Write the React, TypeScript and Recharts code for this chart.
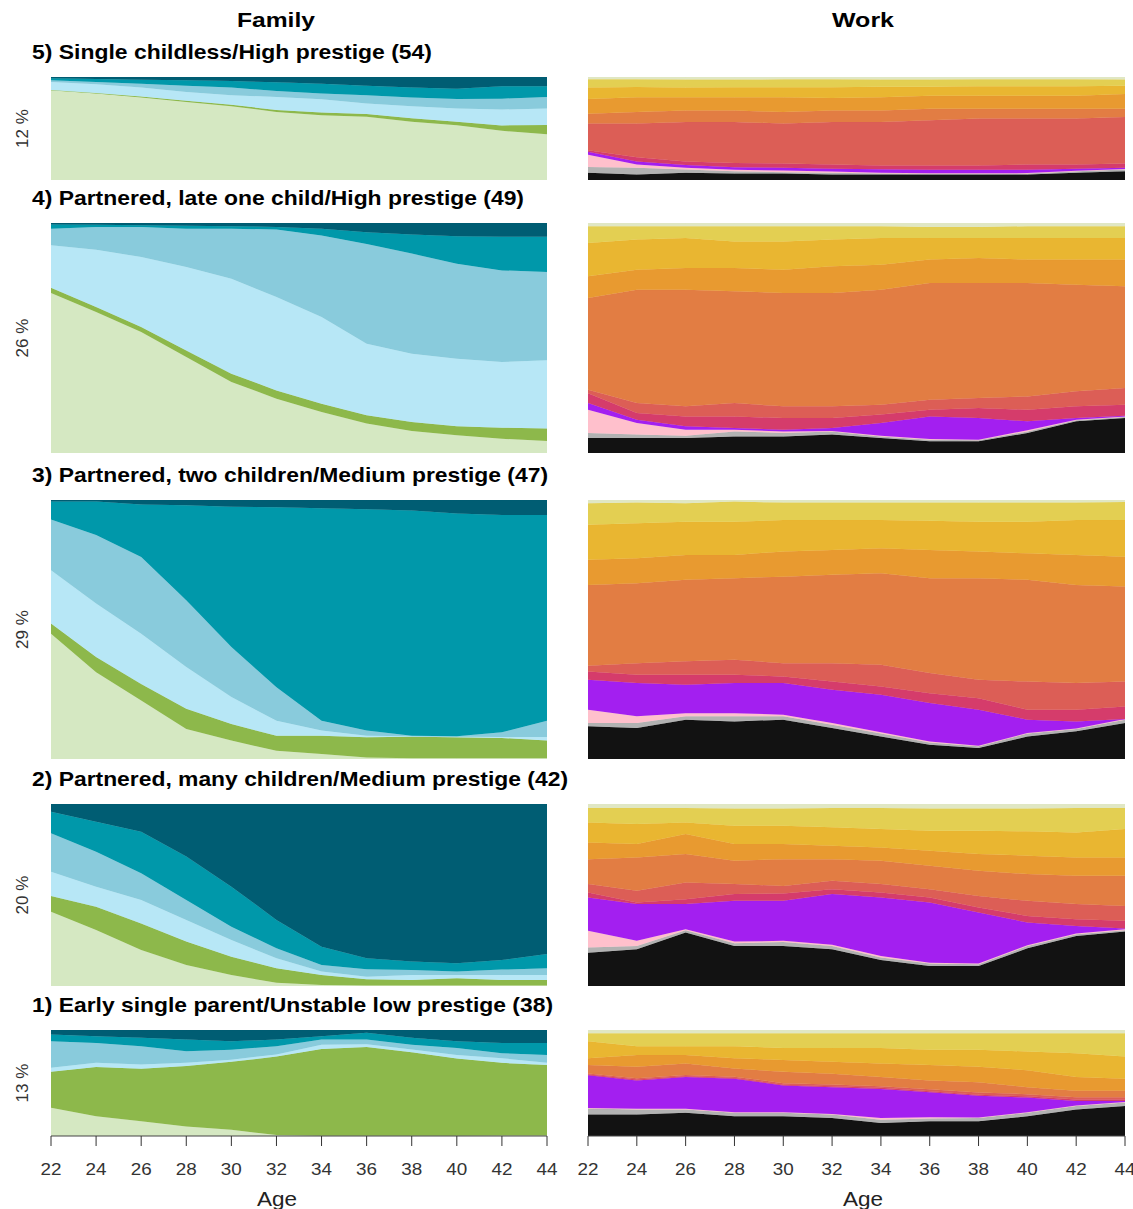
import React from 'react';
import { AreaChart, Area, XAxis, YAxis } from 'recharts';

// ---------- data ----------
const AGES = [22, 24, 26, 28, 30, 32, 34, 36, 38, 40, 42, 44];
const AGE_TICKS = [22, 24, 26, 28, 30, 32, 34, 36, 38, 40, 42, 44];

const FAMILY_STATES = ['Single, no child', 'Single, with child', 'Partnered, no child', 'Partnered, one child', 'Partnered, two children', 'Partnered, three+ children'];
const WORK_STATES = ['Not employed', 'Unemployed', 'In education', 'Prestige 1', 'Prestige 2', 'Prestige 3', 'Prestige 4', 'Prestige 5', 'Prestige 6', 'Prestige 7', 'Prestige 8'];

const CLUSTER_TITLES = [
  '5) Single childless/High prestige (54)',
  '4) Partnered, late one child/High prestige (49)',
  '3) Partnered, two children/Medium prestige (47)',
  '2) Partnered, many children/Medium prestige (42)',
  '1) Early single parent/Unstable low prestige (38)',
];
const CLUSTER_SHARES = ['12 %', '26 %', '29 %', '20 %', '13 %'];

// cumulative upper edge (%) of each state, bottom to top (last state fills to 100)
const family5Tops = [
  [87.1, 83.9, 80, 75.8, 71.6, 66.1, 62.9, 61.3, 56.5, 53.2, 47.7, 44.5],
  [87.5, 84.5, 81, 77, 73, 68, 65.5, 64, 60, 56.5, 53, 53.5],
  [95.2, 92.9, 89.7, 85.5, 82.3, 80.6, 78.4, 74.2, 71.6, 69.4, 68.4, 69.4],
  [96.8, 95.2, 93.5, 91.6, 89.7, 86.5, 83.9, 82.3, 80, 78.7, 79, 80.6],
  [98.7, 98.1, 97.4, 96.8, 96.1, 94.8, 93.5, 91.6, 89.7, 88.7, 91, 91],
];
const family4Tops = [
  [69.6, 61.3, 52.6, 41.7, 30.9, 23.6, 17.8, 12.8, 9.6, 7.7, 6.2, 5.2],
  [71.9, 63.5, 54.8, 44.6, 34.5, 27.2, 21.4, 16.4, 13.5, 11.6, 11, 10.6],
  [90.3, 88.4, 85.2, 80.9, 75.8, 67.8, 59.1, 47.5, 43.2, 41, 39.6, 40.3],
  [97.5, 98.3, 98.3, 97.5, 97.5, 97.2, 94.6, 90.9, 86.7, 82.3, 79.4, 78.7],
  [99.4, 99.2, 99, 98.8, 98.6, 98.3, 97.5, 96, 95, 94.2, 94, 94],
];
const family3Tops = [
  [48.4, 33.5, 22.6, 11.6, 7.1, 3.2, 1.9, 0.6, 0.3, 0.3, 0.3, 0.3],
  [52.3, 39.4, 29, 19.4, 13.5, 9, 9, 8.4, 8.6, 8.4, 8.1, 7.1],
  [72.9, 60, 48.4, 35.5, 23.9, 14.8, 11, 9, 8.8, 8.6, 8.5, 8.5],
  [92.5, 86.5, 78, 61.3, 43.2, 27.7, 14.8, 11, 9, 8.8, 10.3, 14.8],
  [99.4, 99.4, 98.3, 98, 97.4, 97.2, 96.8, 96.4, 95.9, 94.8, 94.2, 94.2],
];
const family2Tops = [
  [40.8, 30.8, 19.8, 11.5, 6, 1.8, 0.5, 0.3, 0.3, 0.3, 0.3, 0.3],
  [49.5, 43.6, 34.4, 24.4, 16.1, 9.7, 6, 3.7, 3.3, 4.2, 3.3, 3.3],
  [62.8, 54.6, 47.3, 36.3, 25.3, 15.2, 7.9, 5.1, 6, 6, 6, 6],
  [83.9, 73.8, 61.9, 47.3, 32.6, 20.7, 11.5, 9.2, 8.8, 7.9, 9, 9.7],
  [95.8, 90.3, 84.8, 71.1, 54.6, 36.3, 21.6, 15.2, 13.4, 12.5, 14.3, 17.6],
];
const family1Tops = [
  [26.7, 18.6, 13.8, 9, 5.8, 1, 0.3, 0.3, 0.3, 0.3, 0.5, 0.5],
  [60.5, 65, 63.5, 66, 70, 75, 82, 84, 79, 73, 69, 67],
  [64.5, 69, 67.5, 69, 72, 77, 86, 86.5, 81.5, 76.5, 73.3, 69],
  [89.4, 87.8, 84.6, 80, 81.4, 84.6, 91, 91, 86.2, 83, 78.1, 76.5],
  [95.8, 94.2, 92.6, 91, 89.4, 91, 94.2, 97.4, 92.6, 89.4, 87.8, 87.8],
];

const work5Tops = [
  [7, 5.4, 7, 6.4, 6.4, 5.4, 5.4, 5.4, 5.4, 5.4, 7, 8.6],
  [12.7, 11.8, 10.2, 8.6, 7.6, 7, 6.4, 6, 6, 6.2, 8.6, 10.2],
  [24.5, 15, 12, 10, 9.2, 8.3, 7, 6.5, 6.5, 6.7, 8.9, 10.8],
  [27.5, 18, 14.5, 12.5, 12, 11, 10.5, 10, 10, 10, 11, 12],
  [29, 22, 18, 16.5, 16, 15, 14, 14, 14, 15, 15, 16],
  [54.8, 54.8, 56.4, 56.4, 54.8, 56.4, 56.4, 58, 59.6, 59.6, 59.6, 61.1],
  [64.3, 65.9, 67.5, 67.5, 65.9, 67.5, 67.5, 69.1, 69.1, 69.1, 69.1, 69.1],
  [78.7, 80.3, 80.3, 80.3, 80.3, 79.6, 80.3, 81.8, 81.8, 81.8, 81.8, 83.4],
  [89.8, 90.4, 89.8, 90, 90, 90, 90.5, 90.5, 91, 91, 91, 91.4],
  [97.8, 97.8, 97.5, 97.5, 97.8, 97.8, 97.5, 97.5, 97.8, 97.8, 97.8, 97.5],
];
const work4Tops = [
  [6.5, 6.5, 6.5, 7.2, 7.2, 8, 6.5, 5.1, 5.1, 8.7, 13.8, 15.2],
  [8.7, 8, 7.5, 9.4, 8.7, 9.4, 7.2, 5.8, 5.5, 9.4, 14.2, 15.7],
  [18.8, 13, 10.1, 10.1, 9.4, 9.6, 7.5, 6.1, 5.8, 9.9, 14.5, 15.9],
  [21.7, 14.5, 11.6, 10.9, 10.1, 10.9, 13, 15.9, 15.2, 13.8, 15.2, 16.2],
  [26, 17.4, 15.9, 15.9, 15.2, 15.2, 16.7, 18.8, 19.6, 18.8, 20.3, 21],
  [27.5, 21.7, 20.3, 21.7, 20.3, 20.3, 21, 23.2, 23.9, 24.6, 26.8, 28.3],
  [67.4, 71, 71, 70.3, 69.6, 69.6, 71, 73.9, 73.9, 73.9, 73.2, 72.5],
  [76.8, 79.7, 80.4, 80.4, 79.7, 81.2, 81.9, 84.1, 84.8, 84.1, 84.1, 84.1],
  [91.3, 92.8, 93.5, 92, 92, 92.8, 93.5, 93.5, 93.5, 93.5, 93.5, 93.5],
  [98.6, 98.6, 98.6, 98.6, 98.6, 98.6, 98.6, 98.3, 98.3, 98.6, 98.6, 98.6],
];
const work3Tops = [
  [12.6, 12, 15.2, 14.5, 15.2, 12, 8.7, 5.5, 4.2, 8.7, 10.7, 13.9],
  [13.9, 13.9, 16.5, 16.5, 16.5, 13.2, 9.8, 6.4, 4.9, 9.8, 11.6, 15.2],
  [19, 16.5, 17.7, 17.7, 17.1, 13.9, 10.3, 6.8, 5.1, 10, 11.8, 15.4],
  [30.6, 29.3, 28.7, 29.3, 29.3, 26.7, 24.8, 21.6, 19, 15.2, 14.5, 15.4],
  [33.8, 32.5, 32.5, 32.5, 31.9, 29.9, 28, 25.4, 23.5, 19, 19, 20.3],
  [36, 37, 37.7, 38.3, 37, 37, 36.4, 33.2, 30.6, 29.9, 29.3, 29.9],
  [67.2, 67.9, 69.2, 69.8, 70.4, 71.1, 71.7, 69.8, 69.8, 69.2, 67.2, 66.6],
  [76.9, 77.5, 78.8, 78.8, 80.1, 80.7, 81.4, 80.7, 80.1, 79.4, 78.8, 78.1],
  [90.4, 91, 91.6, 91.6, 92.3, 92.3, 92.3, 92, 91.6, 91.6, 92.3, 92.3],
  [98.7, 99, 98.7, 99.4, 99, 99, 99, 99, 99, 99, 99, 99.2],
];
const work2Tops = [
  [18.3, 20.2, 29.4, 22, 22, 20.2, 14.3, 11, 11, 20.7, 27.5, 29.9],
  [21.1, 22, 30.6, 23.5, 24.2, 22, 15.6, 12.3, 11.9, 22, 28.4, 30.6],
  [30.3, 24.8, 31.2, 24.4, 24.8, 22.6, 16.5, 12.8, 12.3, 22.4, 28.8, 31.2],
  [48.6, 45, 45, 46.8, 46.8, 50.5, 48.6, 45.9, 40.4, 34.9, 33, 31.6],
  [51.4, 45.9, 47.7, 50.5, 50.8, 53.2, 51.4, 48.6, 43.1, 38.5, 36.7, 35.8],
  [56, 52.3, 56.9, 56, 55, 57.8, 56, 53.2, 49.5, 46.8, 45, 44],
  [69.7, 70.6, 72.5, 68.8, 69.7, 69.7, 68.8, 66.1, 63.3, 61.5, 60.6, 60.6],
  [78.9, 78, 83.5, 78, 78, 77.1, 76.1, 74.3, 72.5, 71.6, 70.6, 70.6],
  [89.9, 89, 89.9, 88.1, 88.1, 87.2, 86.2, 85.3, 85.3, 85, 84.4, 86.2],
  [97.8, 97.8, 97.8, 97.5, 97.5, 97.8, 97.8, 97.5, 97.5, 97.5, 97.8, 97.8],
];
const work1Tops = [
  [20.3, 20.3, 21.9, 18.6, 18.6, 17, 12.2, 13.8, 13.8, 18.6, 25.1, 28.3],
  [26, 25.1, 25.1, 21.9, 21.9, 20.3, 15.4, 16.4, 17, 21.9, 28.3, 31.5],
  [26.5, 25.6, 25.6, 22.4, 22.4, 20.8, 17, 17.7, 17.5, 22.4, 28.8, 32],
  [57.2, 52.4, 55.6, 54, 47.6, 46, 44.4, 41.2, 37.9, 36.3, 33.1, 33.1],
  [58, 53.2, 56.4, 54.8, 48.4, 47, 45.5, 42.3, 39, 37.5, 34.5, 34.5],
  [59, 54.5, 57.5, 56, 49.8, 48.5, 47, 44, 41, 39.5, 36.5, 36.5],
  [66.9, 65.3, 68.5, 63.7, 60.5, 58.8, 55.6, 52.4, 50.8, 46, 42.8, 42.8],
  [73.3, 76.5, 76.5, 73.3, 71.7, 70.1, 68.5, 66.9, 65.3, 62.1, 55.6, 54],
  [89.4, 84.6, 84.6, 84.6, 83, 83, 83, 81.4, 81.4, 79.7, 78.1, 74.9],
  [97, 97, 97, 97, 97, 97, 97, 97, 97, 97, 97, 97],
];

const FAMILY_BY_CLUSTER = [family5Tops, family4Tops, family3Tops, family2Tops, family1Tops];
const WORK_BY_CLUSTER = [work5Tops, work4Tops, work3Tops, work2Tops, work1Tops];

// ---------- styles / layout ----------
const FAMILY_COLORS = ['#d5e8c2', '#8db84b', '#b7e7f6', '#89cbdc', '#0098aa', '#005d73'];
const WORK_COLORS = ['#121212', '#b2b2b2', '#ffc0cc', '#a31ff0', '#d53c6b', '#dc5e56', '#e27d43', '#e89a30', '#e9b631', '#e3cf52', '#e0e7c4'];
const FONT = '"Liberation Sans", Arial, Helvetica, sans-serif';

const ROW_TOP = [77, 223, 500, 804, 1030];
const ROW_BOTTOM = [180, 453, 759, 986, 1136];
const TITLE_WIDTH = [400, 492, 516, 536, 521];
const FAM_X = 51, FAM_W = 496;
const WORK_X = 588, WORK_W = 537;
const PAD = 24;
const AXIS_H = 80;

function buildRows(tops: number[][], names: string[]) {
  return AGES.map((age, i) => {
    const row: Record<string, number> = { age };
    let prev = 0;
    tops.forEach((arr, k) => {
      const v = Math.max(arr[i], prev);
      row[names[k]] = +(v - prev).toFixed(2);
      prev = v;
    });
    row[names[tops.length]] = +(100 - prev).toFixed(2);
    return row;
  });
}

const AgeTick = (props: any) => {
  const { x, y, payload } = props;
  return (
    <text x={x} y={y + 29} textAnchor="middle" fontSize={17} fill="#333" fontFamily={FONT}
      textLength={21} lengthAdjust="spacingAndGlyphs">
      {payload.value}
    </text>
  );
};

function Panel({ tops, names, colors, left, top, width, height, showAxis }: any) {
  const rows = buildRows(tops, names);
  return (
    <div style={{ position: 'absolute', left: left - PAD, top }}>
      <AreaChart width={width + 2 * PAD} height={height + (showAxis ? AXIS_H : 0)} data={rows}
        margin={{ top: 0, right: PAD, bottom: 0, left: PAD }}>
        <XAxis type="number" dataKey="age" domain={[22, 44]} ticks={AGE_TICKS} interval={0}
          hide={!showAxis} height={AXIS_H} allowDataOverflow
          axisLine={{ stroke: '#444', strokeWidth: 1 }} tickLine={{ stroke: '#333', strokeWidth: 1 }}
          tickSize={10} tickMargin={0} tick={(p: any) => <AgeTick {...p} />} />
        <YAxis type="number" domain={[0, 100]} hide allowDataOverflow />
        {names.map((n: string, k: number) => (
          <Area key={n} type="linear" dataKey={n} stackId="1" stroke={colors[k]} strokeWidth={0.6}
            fill={colors[k]} fillOpacity={1} isAnimationActive={false} dot={false} activeDot={false} />
        ))}
      </AreaChart>
    </div>
  );
}

export default function App() {
  return (
    <div style={{ position: 'absolute', left: 0, top: 0, width: 1133, height: 1209, background: '#fff', fontFamily: FONT, overflow: 'hidden' }}>
      {CLUSTER_TITLES.map((t, r) => (
        <React.Fragment key={t}>
          <Panel tops={FAMILY_BY_CLUSTER[r]} names={FAMILY_STATES} colors={FAMILY_COLORS}
            left={FAM_X} top={ROW_TOP[r]} width={FAM_W} height={ROW_BOTTOM[r] - ROW_TOP[r]} showAxis={r === 4} />
          <Panel tops={WORK_BY_CLUSTER[r]} names={WORK_STATES} colors={WORK_COLORS}
            left={WORK_X} top={ROW_TOP[r]} width={WORK_W} height={ROW_BOTTOM[r] - ROW_TOP[r]} showAxis={r === 4} />
        </React.Fragment>
      ))}
      <svg width={1133} height={1209} style={{ position: 'absolute', left: 0, top: 0, pointerEvents: 'none' }}>
        <text x={276} y={27} textAnchor="middle" fontSize={21} fontWeight="bold" fill="#000" fontFamily={FONT}
          textLength={78} lengthAdjust="spacingAndGlyphs">Family</text>
        <text x={863} y={27} textAnchor="middle" fontSize={21} fontWeight="bold" fill="#000" fontFamily={FONT}
          textLength={62} lengthAdjust="spacingAndGlyphs">Work</text>
        {CLUSTER_TITLES.map((t, r) => (
          <text key={t} x={32} y={ROW_TOP[r] - 18.5} fontSize={21} fontWeight="bold" fill="#000" fontFamily={FONT}
            textLength={TITLE_WIDTH[r]} lengthAdjust="spacingAndGlyphs">{t}</text>
        ))}
        {CLUSTER_SHARES.map((s, r) => {
          const cy = (ROW_TOP[r] + ROW_BOTTOM[r]) / 2;
          return (
            <text key={s} x={28} y={cy} transform={`rotate(-90 28 ${cy})`} textAnchor="middle" fontSize={17}
              fill="#333" fontFamily={FONT}>{s}</text>
          );
        })}
        <text x={277} y={1206} textAnchor="middle" fontSize={20} fill="#222" fontFamily={FONT}
          textLength={40} lengthAdjust="spacingAndGlyphs">Age</text>
        <text x={863} y={1206} textAnchor="middle" fontSize={20} fill="#222" fontFamily={FONT}
          textLength={40} lengthAdjust="spacingAndGlyphs">Age</text>
      </svg>
    </div>
  );
}
